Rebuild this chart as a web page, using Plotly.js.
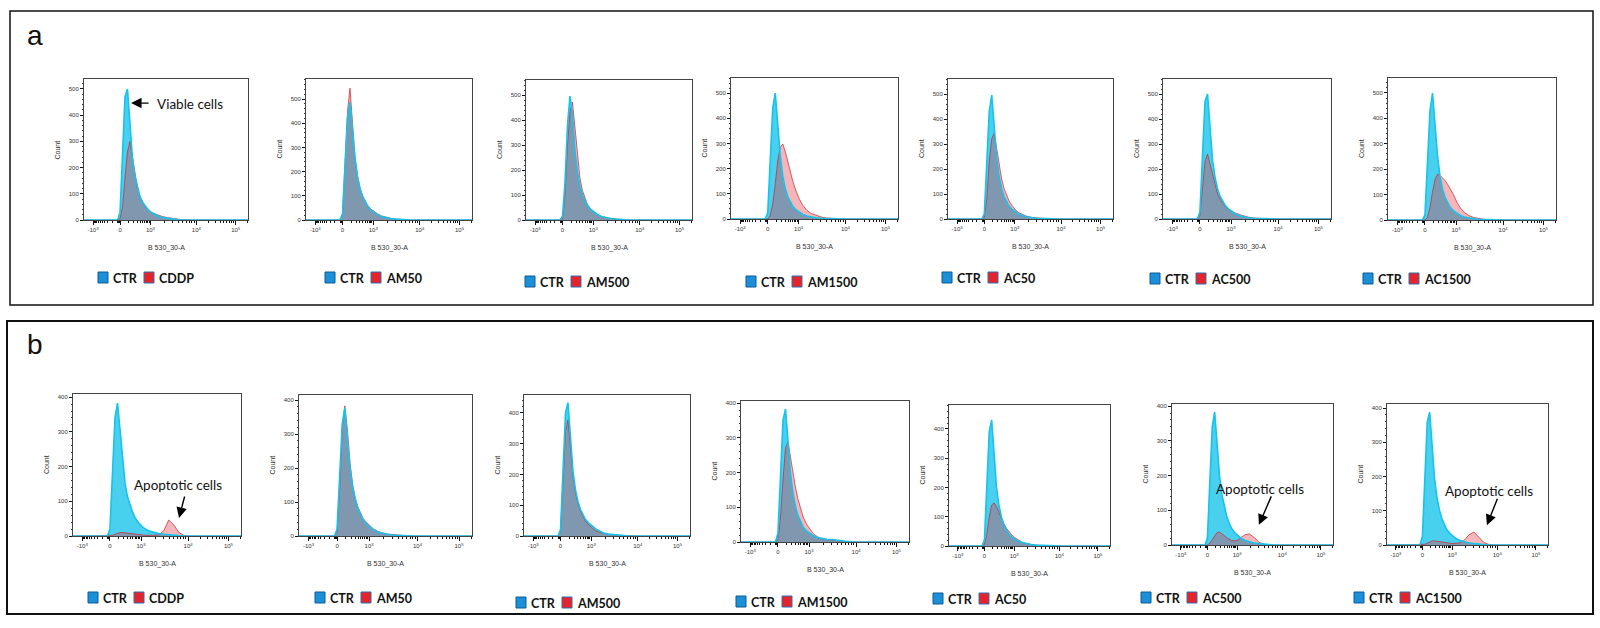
<!DOCTYPE html>
<html>
<head>
<meta charset="utf-8">
<script src="https://cdn.plot.ly/plotly-3.0.1.min.js"></script>
<style>
  html, body { margin: 0; padding: 0; background: #fff; }
  #chart { width: 1600px; height: 628px; }
</style>
</head>
<body>
<div id="chart"></div>
<script>
// Display channel of each histogram bin on the B 530_30-A (biexponential) scale, 0..1000
const channel = [0, 190, 205, 220, 235, 250, 265, 280, 295, 310, 325, 340, 355, 370, 390, 410, 430, 455, 480, 510, 540, 570, 600, 630, 660, 700, 760, 1000];

// Axis tick labels
const xTickText = ['-10<sup>3</sup>', '0', '10<sup>3</sup>', '10<sup>4</sup>', '10<sup>5</sup>'];
const xTickChannel = [55, 220, 405, 685, 925];

// Treatments (one histogram overlay each, against the control)
const treatments = ['CDDP', 'AM50', 'AM500', 'AM1500', 'AC50', 'AC500', 'AC1500'];

// Panel a: cell counts per bin
const ctrA1   = [0,0,0,30,230,470,500,360,240,170,125,92,70,55,40,29,21,14,9,6,4,2,1,0,0,0,0,0];
const cddpA   = [0,0,0,5,50,160,260,300,240,175,125,92,70,54,40,30,24,18,13,9,6,3,1,0,0,0,0,0];
const ctrA2   = [0,0,0,25,200,420,488,380,255,180,130,98,75,58,42,30,22,14,9,6,4,2,1,0,0,0,0,0];
const am50A   = [0,0,0,25,210,450,545,400,262,182,134,102,80,62,46,35,26,17,11,7,4,2,1,0,0,0,0,0];
const ctrA3   = [0,0,0,15,150,380,496,420,280,190,135,100,76,58,42,30,22,14,9,6,4,2,1,0,0,0,0,0];
const am500A  = [0,0,0,5,100,300,430,472,370,250,168,118,86,62,44,31,22,14,9,6,4,2,1,0,0,0,0,0];
const ctrA4   = [0,0,0,25,220,440,500,380,250,170,120,88,66,50,36,26,18,12,8,5,3,2,1,0,0,0,0,0];
const am1500A = [0,0,0,0,15,60,140,230,285,298,268,228,188,150,110,78,54,34,22,14,8,4,2,0,0,0,0,0];
const ctrA5   = [0,0,0,20,200,430,496,370,245,170,122,90,68,52,38,27,19,13,8,5,3,2,1,0,0,0,0,0];
const ac50A   = [0,0,0,5,80,230,320,344,280,210,160,122,95,72,52,36,25,16,10,6,4,2,1,0,0,0,0,0];
const ctrA6   = [0,0,0,30,240,470,500,360,235,165,120,90,70,55,40,28,20,13,8,5,3,2,1,0,0,0,0,0];
const ac500A  = [0,0,0,15,110,230,260,220,170,130,100,78,62,50,38,30,24,18,12,7,4,2,1,0,0,0,0,0];
const ctrA7   = [0,0,0,20,200,430,500,380,250,170,120,88,66,50,36,26,18,12,8,5,3,2,1,0,0,0,0,0];
const ac1500A = [0,0,0,0,10,50,110,160,180,175,165,155,140,125,100,70,48,30,18,10,6,3,1,0,0,0,0,0];

// Panel b: cell counts per bin
const ctrB1   = [0,0,0,20,180,340,383,300,210,150,112,88,68,52,38,28,20,14,10,7,5,3,2,1,0,0,0,0];
const cddpB   = [0,0,0,0,2,5,8,10,10,9,8,6,5,4,3,2,2,2,2,3,15,46,32,10,2,0,0,0];
const ctrB2   = [0,0,0,20,170,330,378,290,200,145,108,82,63,48,35,25,18,12,8,5,3,2,1,0,0,0,0,0];
const am50B   = [0,0,0,12,140,320,383,310,215,152,112,86,66,52,40,30,21,14,9,6,4,2,1,0,0,0,0,0];
const ctrB3   = [0,0,0,20,200,400,433,320,210,150,112,86,68,54,42,32,24,16,10,6,4,2,1,0,0,0,0,0];
const am500B  = [0,0,0,15,170,340,377,290,195,140,104,80,62,48,36,26,18,12,8,5,3,2,1,0,0,0,0,0];
const ctrB4   = [0,0,0,25,200,350,383,290,195,138,100,75,57,43,32,24,18,13,10,8,7,5,3,1,0,0,0,0];
const am1500B = [0,0,0,5,70,180,270,288,245,195,155,122,95,72,52,36,24,15,10,7,5,3,2,1,0,0,0,0];
const ctrB5   = [0,0,0,20,200,390,431,310,200,140,100,74,55,42,31,23,17,12,8,5,3,2,1,0,0,0,0,0];
const ac50B   = [0,0,0,5,40,100,140,147,135,115,95,78,62,50,38,28,20,13,8,5,3,2,1,0,0,0,0,0];
const ctrB6   = [0,0,0,20,180,340,383,290,200,145,108,82,63,48,35,26,19,13,9,6,4,2,1,0,0,0,0,0];
const ac500B  = [0,0,0,0,5,15,28,36,37,33,27,21,16,13,12,14,22,30,32,22,8,2,0,0,0,0,0,0];
const ctrB7   = [0,0,0,25,200,360,388,290,195,140,103,78,60,46,34,25,18,13,9,6,4,2,1,0,0,0,0,0];
const ac1500B = [0,0,0,0,2,5,9,12,12,11,9,7,6,5,4,4,5,7,14,30,38,22,8,2,0,0,0,0];

const controlSeries = [ctrA1, ctrA2, ctrA3, ctrA4, ctrA5, ctrA6, ctrA7, ctrB1, ctrB2, ctrB3, ctrB4, ctrB5, ctrB6, ctrB7];
const treatedSeries = [cddpA, am50A, am500A, am1500A, ac50A, ac500A, ac1500A, cddpB, am50B, am500B, am1500B, ac50B, ac500B, ac1500B];

// ---- layout geometry (pixels) ----
const W = 1600, H = 628;
const px = v => v / W;
const py = v => 1 - v / H;

// plot frames: [left, right, top, bottom]
const frames = [
  [84, 248, 79, 220], [306, 472, 79, 220], [526, 692, 80, 220], [731, 898, 78, 219],
  [948, 1113, 79, 219], [1163, 1331, 79, 219], [1388, 1556, 78, 220],
  [73, 241, 394, 536], [299, 472, 395, 536], [524, 690, 395, 536], [741, 909, 401, 542],
  [949, 1110, 405, 546], [1172, 1333, 404, 545], [1387, 1548, 404, 545]
];
const countMax = [538, 583, 560, 560, 560, 560, 559, 409, 415, 458, 406, 482, 406, 412];
// legend anchor (left of blue key, vertical centre)
const legendAt = [
  [98, 278], [325, 278], [525, 282], [746, 282], [942, 278], [1150, 279], [1363, 279],
  [88, 598], [315, 598], [516, 603], [736, 602], [933, 599], [1141, 598], [1354, 598]
];

// minor ticks on the biexponential axis
const minorX = [];
for (let k = 1; k <= 9; k++) {
  const f = Math.log10(1 + 9 * k / 10);
  minorX.push(220 - 165 * f, 220 + 185 * f);
}
for (let k = 2; k <= 9; k++) {
  minorX.push(405 + 280 * Math.log10(k), 685 + 240 * Math.log10(k));
  const t = 925 + 240 * Math.log10(k);
  if (t < 1000) minorX.push(t);
}
minorX.push(207, 211, 215);

const tickFont = { family: 'Liberation Sans, Arial, sans-serif', size: 6, color: '#333' };
const CTR_FILL = 'rgb(72,208,238)';
const CTR_LINE = '#14c4ec';
const TRT_FILL = 'rgba(225,55,70,0.37)';
const TRT_LINE = 'rgba(215,35,45,0.72)';

const traces = [];
const layout = {
  width: W, height: H,
  margin: { l: 0, r: 0, t: 0, b: 0 },
  paper_bgcolor: '#fff', plot_bgcolor: '#fff',
  showlegend: false,
  shapes: [], annotations: []
};

frames.forEach((fr, i) => {
  const s = i === 0 ? '' : String(i + 1);
  const [l, r, t, b] = fr;

  // control histogram area
  traces.push({
    type: 'scatter', mode: 'lines', x: channel, y: controlSeries[i],
    xaxis: 'x' + s, yaxis: 'y' + s, name: 'CTR',
    fill: 'tozeroy', fillcolor: CTR_FILL,
    line: { color: CTR_FILL, width: 0 }, hoverinfo: 'skip'
  });
  // treated histogram overlay
  traces.push({
    type: 'scatter', mode: 'lines', x: channel, y: treatedSeries[i],
    xaxis: 'x' + s, yaxis: 'y' + s, name: treatments[i % 7],
    fill: 'tozeroy', fillcolor: TRT_FILL,
    line: { color: TRT_LINE, width: 1 }, hoverinfo: 'skip'
  });
  // control outline on top
  traces.push({
    type: 'scatter', mode: 'lines', x: channel, y: controlSeries[i],
    xaxis: 'x' + s, yaxis: 'y' + s, name: 'CTR',
    line: { color: CTR_LINE, width: 1.6 }, hoverinfo: 'skip'
  });

  layout['xaxis' + s] = {
    domain: [px(l), px(r)], anchor: 'y' + s, range: [0, 1000],
    showline: true, mirror: true, linecolor: '#444', linewidth: 1,
    showgrid: false, zeroline: false, fixedrange: true,
    tickmode: 'array', tickvals: xTickChannel, ticktext: xTickText,
    ticks: 'outside', ticklen: 4, tickwidth: 1, tickcolor: '#111',
    tickfont: tickFont,
    minor: { tickmode: 'array', tickvals: minorX, ticks: 'outside', ticklen: 2, tickwidth: 1, tickcolor: '#111', showgrid: false }
  };
  layout['yaxis' + s] = {
    domain: [py(b), py(t)], anchor: 'x' + s, range: [0, countMax[i]],
    showline: true, mirror: true, linecolor: '#444', linewidth: 1,
    showgrid: false, zeroline: false, fixedrange: true,
    tickmode: 'linear', tick0: 0, dtick: 100,
    ticks: 'outside', ticklen: 3, tickwidth: 1, tickcolor: '#111',
    tickfont: tickFont,
    minor: { dtick: 20, ticks: 'outside', ticklen: 1.5, tickwidth: 1, tickcolor: '#333', showgrid: false }
  };

  // axis titles
  layout.annotations.push({
    xref: 'paper', yref: 'paper', x: px(l - 27), y: py((t + b) / 2),
    text: 'Count', textangle: -90, showarrow: false,
    font: { family: 'Liberation Sans, Arial, sans-serif', size: 7, color: '#333' },
    xanchor: 'center', yanchor: 'middle'
  });
  layout.annotations.push({
    xref: 'paper', yref: 'paper', x: px((l + r) / 2), y: py(b + 28),
    text: 'B 530_30-A', showarrow: false,
    font: { family: 'Liberation Sans, Arial, sans-serif', size: 7, color: '#333' },
    xanchor: 'center', yanchor: 'middle'
  });

  // legend keys
  const [lx, ly] = legendAt[i];
  layout.shapes.push({
    type: 'rect', xref: 'paper', yref: 'paper',
    x0: px(lx), x1: px(lx + 10), y0: py(ly + 5), y1: py(ly - 6),
    fillcolor: '#1b8fd8', line: { color: '#0f5a94', width: 1 }
  });
  layout.shapes.push({
    type: 'rect', xref: 'paper', yref: 'paper',
    x0: px(lx + 46), x1: px(lx + 56), y0: py(ly + 5), y1: py(ly - 6),
    fillcolor: '#e5232a', line: { color: '#2c6fb3', width: 1 }
  });
  layout.annotations.push({
    xref: 'paper', yref: 'paper', x: px(lx + 13), y: py(ly),
    text: '<b>CTR</b>', showarrow: false, xanchor: 'left', yanchor: 'middle',
    font: { family: 'Lato, Open Sans, sans-serif', size: 12.5, color: '#111' }
  });
  layout.annotations.push({
    xref: 'paper', yref: 'paper', x: px(lx + 59), y: py(ly),
    text: '<b>' + treatments[i % 7] + '</b>', showarrow: false, xanchor: 'left', yanchor: 'middle',
    font: { family: 'Lato, Open Sans, sans-serif', size: 12.5, color: '#111' }
  });
});

// panel frames and letters
layout.shapes.push(
  { type: 'rect', xref: 'paper', yref: 'paper', x0: px(10), x1: px(1593), y0: py(305), y1: py(11),
    line: { color: '#111', width: 1.5 }, fillcolor: 'rgba(0,0,0,0)' },
  { type: 'rect', xref: 'paper', yref: 'paper', x0: px(7), x1: px(1593), y0: py(614), y1: py(321),
    line: { color: '#111', width: 2 }, fillcolor: 'rgba(0,0,0,0)' }
);
const letterFont = { family: 'Liberation Sans, Arial, sans-serif', size: 28, color: '#111' };
layout.annotations.push(
  { xref: 'paper', yref: 'paper', x: px(35), y: py(36), text: 'a', showarrow: false, xanchor: 'center', yanchor: 'middle', font: letterFont },
  { xref: 'paper', yref: 'paper', x: px(35), y: py(344), text: 'b', showarrow: false, xanchor: 'center', yanchor: 'middle', font: letterFont }
);

// callouts
const noteFont = { family: 'Lato, Open Sans, sans-serif', size: 13.5, color: '#111' };
const arrowStyle = { showarrow: true, arrowhead: 2, arrowsize: 1.5, arrowwidth: 1.4, arrowcolor: '#000', standoff: 0, text: '' };
layout.annotations.push(
  { xref: 'paper', yref: 'paper', x: px(155), y: py(104), text: 'Viable cells', showarrow: false, xanchor: 'left', yanchor: 'middle', font: noteFont },
  Object.assign({ xref: 'x', yref: 'y', x: 287, y: 446, ax: 19, ay: 0 }, arrowStyle),

  { xref: 'paper', yref: 'paper', x: px(178), y: py(485), text: 'Apoptotic cells', showarrow: false, xanchor: 'center', yanchor: 'middle', font: noteFont },
  Object.assign({ xref: 'x8', yref: 'y8', x: 631, y: 52, ax: 6, ay: -23 }, arrowStyle),

  { xref: 'paper', yref: 'paper', x: px(1260), y: py(489), text: 'Apoptotic cells', showarrow: false, xanchor: 'center', yanchor: 'middle', font: noteFont },
  Object.assign({ xref: 'x13', yref: 'y13', x: 540, y: 58, ax: 13, ay: -30 }, arrowStyle),

  { xref: 'paper', yref: 'paper', x: px(1489), y: py(491), text: 'Apoptotic cells', showarrow: false, xanchor: 'center', yanchor: 'middle', font: noteFont },
  Object.assign({ xref: 'x14', yref: 'y14', x: 621, y: 58, ax: 11, ay: -28 }, arrowStyle)
);

Plotly.newPlot('chart', traces, layout, { staticPlot: true, displayModeBar: false });
</script>
</body>
</html>
